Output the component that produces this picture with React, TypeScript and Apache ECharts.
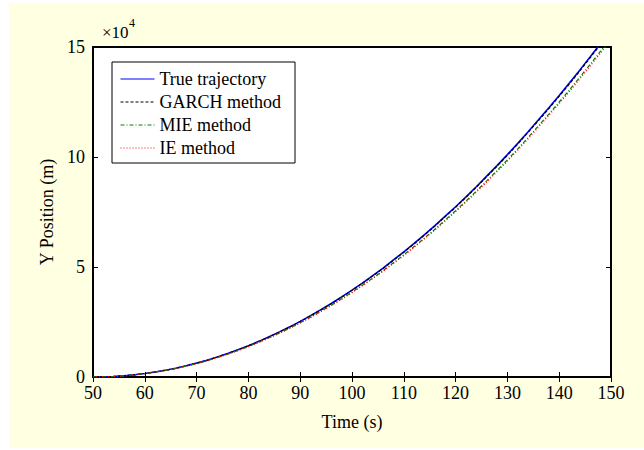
import React, { useEffect, useRef } from "react";
import * as echarts from "echarts";

const times = [50, 52, 54, 56, 58, 60, 62, 64, 66, 68, 70, 72, 74, 76, 78, 80, 82, 84, 86, 88, 90, 92, 94, 96, 98, 100, 102, 104, 106, 108, 110, 112, 114, 116, 118, 120, 122, 124, 126, 128, 130, 132, 134, 136, 138, 140, 142, 144, 146, 148, 150];

const trueTrajectory = [0, 60, 250, 570, 1000, 1600, 2300, 3100, 4000, 5100, 6300, 7600, 9100, 10700, 12400, 14200, 16200, 18300, 20500, 22800, 25300, 27900, 30600, 33400, 36400, 39500, 42700, 46100, 49500, 53200, 56900, 60700, 64700, 68800, 73100, 77400, 81900, 86500, 91300, 96100, 101100, 106200, 111500, 116900, 122400, 128000, 133700, 139600, 145600, 151700, 158000];

const garchMethod = [0, 60, 250, 565, 1000, 1590, 2290, 3090, 3990, 5080, 6280, 7580, 9070, 10660, 12360, 14160, 16150, 18240, 20430, 22720, 25220, 27810, 30500, 33300, 36290, 39380, 42570, 45960, 49350, 53040, 56730, 60520, 64510, 68600, 72880, 77170, 81660, 86250, 91030, 95830, 100800, 105880, 111170, 116550, 122030, 127620, 133300, 139180, 145170, 151250, 157500];

const mieMethod = [0, 60, 240, 550, 980, 1550, 2240, 3020, 3900, 4970, 6130, 7400, 8860, 10420, 12080, 13860, 15790, 17830, 19990, 22260, 24680, 27210, 29870, 32640, 35540, 38560, 41700, 44980, 48350, 51930, 55530, 59290, 63180, 67180, 71370, 75570, 79970, 84460, 89150, 93860, 98730, 103710, 108880, 114160, 119530, 125000, 130560, 136320, 142190, 148140, 154300];

const ieMethod = [0, 55, 235, 545, 970, 1540, 2220, 3000, 3880, 4940, 6100, 7360, 8820, 10370, 12020, 13780, 15700, 17730, 19880, 22140, 24540, 27060, 29700, 32460, 35340, 38340, 41460, 44720, 48070, 51630, 55210, 58960, 62820, 66790, 70960, 75140, 79520, 83980, 88640, 93330, 98170, 103120, 108260, 113520, 118860, 124300, 129830, 135550, 141390, 147300, 153400];

const seriesNames = ["True trajectory", "GARCH method", "MIE method", "IE method"];
const xTicks = { min: 50, max: 150, interval: 10 };
const yTicks = { min: 0, max: 150000, interval: 50000 };
const yScaleText = "×10";
const yScaleExp = "4";

const FONT = "'Liberation Serif', 'Times New Roman', serif";

export default function App() {
  const ref = useRef<HTMLDivElement>(null);
  useEffect(() => {
    if (!ref.current) return;
    const chart = echarts.init(ref.current, undefined, { renderer: "svg" });
    const pair = (vals: number[]) => times.map((t, i) => [t, vals[i]]);
    const axisCommon = {
      type: "value" as const,
      axisLine: { show: true, lineStyle: { color: "#000", width: 2 } },
      axisTick: { show: true, inside: true, length: 5, lineStyle: { color: "#000", width: 1 } },
      splitLine: { show: false },
    };
    const labelStyle = { color: "#000", fontSize: 18, fontFamily: FONT };
    chart.setOption({
      animation: false,
      backgroundColor: "#FFFFE2",
      textStyle: { fontFamily: FONT },
      grid: {
        left: 84,
        right: 33,
        top: 44,
        bottom: 71,
        show: true,
        backgroundColor: "#ffffff",
        borderColor: "#000",
        borderWidth: 2,
        containLabel: false,
        outerBoundsMode: "none",
      },
      legend: {
        orient: "vertical",
        left: 103,
        top: 59,
        data: seriesNames,
        backgroundColor: "#ffffff",
        borderColor: "#000",
        borderWidth: 1,
        padding: [8, 14, 6, 8],
        itemWidth: 34,
        itemHeight: 18,
        itemGap: 5,
        itemStyle: { color: "transparent", borderWidth: 0, opacity: 0 },
        lineStyle: { width: 1 },
        textStyle: { color: "#000", fontSize: 18, fontFamily: FONT },
      },
      xAxis: [
        {
          ...axisCommon,
          ...xTicks,
          position: "bottom",
          axisLabel: { ...labelStyle, margin: 7 },
          name: "Time (s)",
          nameLocation: "middle",
          nameGap: 36,
          nameTextStyle: { ...labelStyle },
        },
        {
          ...axisCommon,
          ...xTicks,
          position: "top",
          axisLabel: { show: false },
        },
      ],
      yAxis: [
        {
          ...axisCommon,
          ...yTicks,
          position: "left",
          axisLabel: {
            ...labelStyle,
            margin: 8,
            formatter: (v: number) => String(v / 10000),
          },
          name: "Y Position (m)",
          nameLocation: "middle",
          nameGap: 37,
          nameTextStyle: { ...labelStyle },
        },
        {
          ...axisCommon,
          ...yTicks,
          position: "right",
          axisLabel: { show: false },
        },
      ],
      graphic: [
        {
          type: "text",
          left: 93,
          top: 21,
          style: { text: yScaleText, fontSize: 17, fontFamily: FONT, fill: "#000" },
        },
        {
          type: "text",
          left: 120,
          top: 14,
          style: { text: yScaleExp, fontSize: 12, fontFamily: FONT, fill: "#000" },
        },
      ],
      series: [
        {
          name: seriesNames[0],
          type: "line",
          data: pair(trueTrajectory),
          showSymbol: false,
          symbol: "none",
          lineStyle: { color: "#0000FF", width: 1.6, type: "solid" },
          itemStyle: { color: "#0000FF" },
          clip: true,
        },
        {
          name: seriesNames[1],
          type: "line",
          data: pair(garchMethod),
          showSymbol: false,
          symbol: "none",
          lineStyle: { color: "#000000", width: 1.2, type: [3, 2] },
          itemStyle: { color: "#000000" },
          clip: true,
        },
        {
          name: seriesNames[2],
          type: "line",
          data: pair(mieMethod),
          showSymbol: false,
          symbol: "none",
          lineStyle: { color: "#008000", width: 1.2, type: [4, 2, 1, 2] },
          itemStyle: { color: "#008000" },
          clip: true,
        },
        {
          name: seriesNames[3],
          type: "line",
          data: pair(ieMethod),
          showSymbol: false,
          symbol: "none",
          lineStyle: { color: "#FF0000", width: 1.2, type: [1, 2] },
          itemStyle: { color: "#FF0000" },
          clip: true,
        },
      ],
    });
    return () => chart.dispose();
  }, []);
  return (
    <div
      ref={ref}
      style={{ position: "absolute", left: 9, top: 3, width: 635, height: 445 }}
    />
  );
}
